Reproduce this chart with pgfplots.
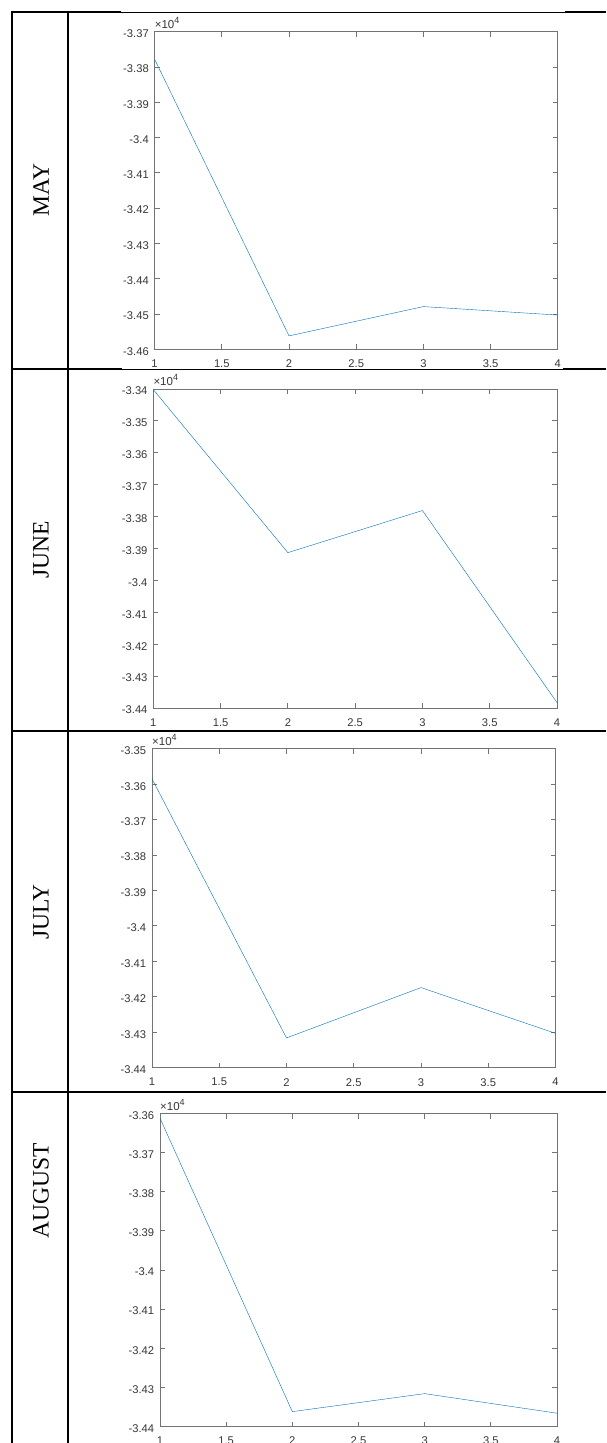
\documentclass[border=0pt]{standalone}
\usepackage{pgfplots}
\pgfplotsset{compat=1.18}
\usepackage{fontspec}
\setmainfont{Liberation Serif}
\newfontfamily\arial{Liberation Sans}
\definecolor{mblue}{RGB}{0,114,189}
\definecolor{axgray}{RGB}{115,115,115}
\definecolor{lblgray}{RGB}{55,55,55}
\pgfplotsset{
  mstyle/.style={
    scale only axis,
    xmin=1, xmax=4,
    xtick={1,1.5,2,2.5,3,3.5,4},
    xticklabels={1,1.5,2,2.5,3,3.5,4},
    scaled x ticks=false, scaled y ticks=false,
    axis line style={draw=axgray, line width=0.9pt},
    every tick/.style={draw=axgray, line width=0.9pt},
    major tick length=5pt,
    tick align=inside,
    tick label style={font=\arial\fontsize{11.2}{11.2}\selectfont, text=lblgray},
    xticklabel style={yshift=-7pt},
    yticklabel style={xshift=-2.3pt, yshift=-2pt},
    cycle list={{mblue, line width=1pt, mark=none}},
  },
  tenfour/.style={
    after end axis/.code={
      \node[anchor=south west, inner sep=0pt, text=lblgray,
        font=\arial\fontsize{11.5}{11.5}\selectfont]
        at ([yshift=3pt]rel axis cs:0,1) {×10\raisebox{5pt}{\fontsize{9}{9}\selectfont 4}};
    }
  }
}
\begin{document}
\begin{tikzpicture}[x=1pt,y=1pt]
\useasboundingbox (0,0) rectangle (606,1443);
\clip (0,0) rectangle (606,1443);

% table lines
\draw[line width=2pt] (11,1431) -- (121,1431);
\draw[line width=0.8pt] (121,1431) -- (565,1431);
\draw[line width=2pt] (565,1431) -- (606,1431);
\draw[line width=2pt] (11,1074) -- (122,1074);
\draw[line width=0.8pt] (122,1074) -- (563,1074);
\draw[line width=2pt] (563,1074) -- (606,1074);
\draw[line width=2pt] (11,711.5) -- (606,711.5);
\draw[line width=2pt] (11,350.7) -- (606,350.7);
\draw[line width=2pt] (12,1432) -- (12,-5);
\draw[line width=2.2pt] (68,1432) -- (68,-5);

% month labels
\node[rotate=90, font=\fontsize{23.5}{23.5}\selectfont] at (41,1253) {MAY};
\node[rotate=90, font=\fontsize{23.5}{23.5}\selectfont] at (41,893) {JUNE};
\node[rotate=90, font=\fontsize{23.5}{23.5}\selectfont] at (41,531) {JULY};
\node[rotate=90, font=\fontsize{23.5}{23.5}\selectfont] at (41,252) {AUGUST};

% MAY
\begin{axis}[mstyle, tenfour, at={(154.6pt,1093.7pt)}, anchor=south west,
  width=403.2pt, height=317.6pt, ymin=-34600, ymax=-33700,
  ytick={-34600,-34500,-34400,-34300,-34200,-34100,-34000,-33900,-33800,-33700},
  yticklabels={-3.46,-3.45,-3.44,-3.43,-3.42,-3.41,-3.4,-3.39,-3.38,-3.37}]
\addplot coordinates {(1,-33778) (2,-34562) (3,-34479) (4,-34503)};
\end{axis}

% JUNE
\begin{axis}[mstyle, tenfour, at={(153.3pt,735pt)}, anchor=south west,
  width=403.7pt, height=319pt, ymin=-34400, ymax=-33400,
  ytick={-34400,-34300,-34200,-34100,-34000,-33900,-33800,-33700,-33600,-33500,-33400},
  yticklabels={-3.44,-3.43,-3.42,-3.41,-3.4,-3.39,-3.38,-3.37,-3.36,-3.35,-3.34}]
\addplot coordinates {(1,-33402) (2,-33913) (3,-33781) (4,-34383)};
\end{axis}

% JULY
\begin{axis}[mstyle, tenfour, at={(152pt,375.3pt)}, anchor=south west,
  width=403.5pt, height=319pt, ymin=-34400, ymax=-33500,
  ytick={-34400,-34300,-34200,-34100,-34000,-33900,-33800,-33700,-33600,-33500},
  yticklabels={-3.44,-3.43,-3.42,-3.41,-3.4,-3.39,-3.38,-3.37,-3.36,-3.35}]
\addplot coordinates {(1,-33585) (2,-34316) (3,-34174) (4,-34303)};
\end{axis}

% AUGUST
\begin{axis}[mstyle, tenfour, at={(160pt,16.5pt)}, anchor=south west,
  width=397pt, height=313pt, ymin=-34400, ymax=-33600,
  ytick={-34400,-34300,-34200,-34100,-34000,-33900,-33800,-33700,-33600},
  yticklabels={-3.44,-3.43,-3.42,-3.41,-3.4,-3.39,-3.38,-3.37,-3.36}]
\addplot coordinates {(1,-33612) (2,-34362) (3,-34316) (4,-34366)};
\end{axis}
\end{tikzpicture}
\end{document}
